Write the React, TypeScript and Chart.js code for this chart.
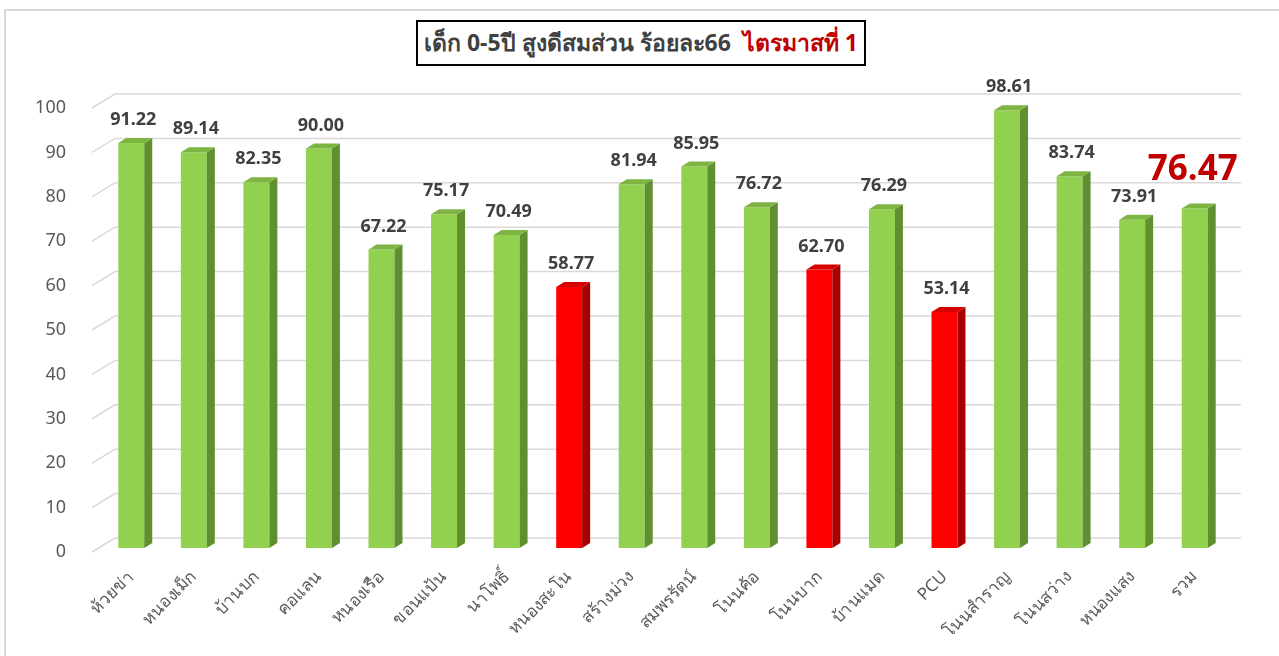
import React, { useEffect, useRef } from "react";
import { Chart, registerables } from "chart.js";

Chart.register(...registerables);

const categories: string[] = [
  "ห้วยข่า", "หนองเม็ก", "บ้านบก", "คอแลน", "หนองเรือ", "ขอนแป้น", "นาโพธิ์", "หนองสะโน",
  "สร้างม่วง", "สมพรรัตน์", "โนนค้อ", "โนนบาก", "บ้านแมด", "PCU", "โนนสำราญ", "โนนสว่าง",
  "หนองแสง", "รวม",
];
const values: number[] = [
  91.22, 89.14, 82.35, 90.0, 67.22, 75.17, 70.49, 58.77, 81.94, 85.95, 76.72, 62.7, 76.29,
  53.14, 98.61, 83.74, 73.91, 76.47,
];
const belowTarget: boolean[] = [
  false, false, false, false, false, false, false, true, false, false, false, true, false,
  true, false, false, false, false,
];
const yTicks: number[] = [0, 10, 20, 30, 40, 50, 60, 70, 80, 90, 100];

const FONT = "Tahoma, 'Noto Sans', 'DejaVu Sans', sans-serif";
const GREEN = { front: "#92d050", side: "#5f8f2e", top: "#7db442" };
const RED = { front: "#ff0000", side: "#a80000", top: "#d60000" };
const DX = 8;
const DY = 5;

const threeD = {
  id: "threeD",
  beforeDatasetsDraw(chart: any) {
    const ctx = chart.ctx;
    const y = chart.scales.y;
    const area = chart.chartArea;
    ctx.save();
    ctx.strokeStyle = "#d9d9d9";
    ctx.lineWidth = 1.5;
    yTicks.forEach((v) => {
      const yf = y.getPixelForValue(v);
      ctx.beginPath();
      ctx.moveTo(area.left - 8, yf + 4);
      ctx.lineTo(area.left + 15, yf - 10);
      ctx.lineTo(area.right + 15, yf - 10);
      ctx.stroke();
      ctx.fillStyle = "#595959";
      ctx.font = `18px ${FONT}`;
      ctx.textAlign = "right";
      ctx.textBaseline = "middle";
      ctx.fillText(String(v), 66, yf + 4);
    });
    ctx.restore();
  },
  afterDatasetsDraw(chart: any) {
    const ctx = chart.ctx;
    const meta = chart.getDatasetMeta(0);
    ctx.save();
    meta.data.forEach((bar: any, i: number) => {
      const c = belowTarget[i] ? RED : GREEN;
      const half = bar.width / 2;
      const l = bar.x - half;
      const r = bar.x + half;
      const t = bar.y;
      const b = bar.base;
      ctx.fillStyle = c.side;
      ctx.beginPath();
      ctx.moveTo(r, t);
      ctx.lineTo(r + DX, t - DY);
      ctx.lineTo(r + DX, b - DY);
      ctx.lineTo(r, b);
      ctx.closePath();
      ctx.fill();
      ctx.fillStyle = c.top;
      ctx.beginPath();
      ctx.moveTo(l, t);
      ctx.lineTo(l + DX, t - DY);
      ctx.lineTo(r + DX, t - DY);
      ctx.lineTo(r, t);
      ctx.closePath();
      ctx.fill();
      ctx.textAlign = "center";
      ctx.textBaseline = "middle";
      if (i === values.length - 1) {
        ctx.fillStyle = "#c00000";
        ctx.font = `bold 35px ${FONT}`;
        ctx.fillText(values[i].toFixed(2), bar.x - 2, t - 38);
      } else {
        ctx.fillStyle = "#404040";
        ctx.font = `bold 18px ${FONT}`;
        ctx.fillText(values[i].toFixed(2), bar.x + 2, t - 23);
      }
    });
    ctx.restore();
  },
};

export default function App() {
  const ref = useRef<HTMLCanvasElement>(null);
  useEffect(() => {
    if (!ref.current) return;
    const chart = new Chart(ref.current, {
      type: "bar",
      data: {
        labels: categories,
        datasets: [
          {
            data: values,
            backgroundColor: belowTarget.map((r) => (r ? RED.front : GREEN.front)),
            borderWidth: 0,
            barPercentage: 0.83,
            categoryPercentage: 0.5,
          },
        ],
      },
      options: {
        animation: false,
        responsive: false,
        maintainAspectRatio: false,
        layout: { padding: { left: 100, right: 53, top: 104, bottom: 0 } },
        plugins: { legend: { display: false }, tooltip: { enabled: false }, title: { display: false } },
        scales: {
          y: { display: false, min: 0, max: 100 },
          x: {
            grid: { display: false, drawTicks: false },
            border: { display: false },
            afterFit: (s: any) => {
              s.height = 108;
            },
            ticks: {
              color: "#595959",
              font: { size: 17, family: FONT },
              maxRotation: 45,
              minRotation: 45,
              padding: 19,
              autoSkip: false,
            },
          },
        },
      },
      plugins: [threeD],
    });
    return () => chart.destroy();
  }, []);

  return (
    <div style={{ position: "fixed", left: 0, top: 0, width: 1279, height: 656, background: "#fff", overflow: "hidden" }}>
      <div
        style={{
          position: "absolute",
          left: 4,
          top: 9,
          width: 1290,
          height: 660,
          borderTop: "2px solid #d9d9d9",
          borderLeft: "2px solid #d9d9d9",
        }}
      />
      <canvas ref={ref} width={1279} height={656} style={{ position: "absolute", left: 0, top: 0 }} />
      <div
        style={{
          position: "absolute",
          left: 416,
          top: 20,
          width: 446,
          height: 42,
          border: "2px solid #000",
          display: "flex",
          alignItems: "center",
          justifyContent: "center",
          fontFamily: FONT,
          fontSize: 23,
          fontWeight: "bold",
          color: "#404040",
          whiteSpace: "pre",
          background: "#fff",
        }}
      >
        <span>เด็ก 0-5ปี สูงดีสมส่วน ร้อยละ66  </span>
        <span style={{ color: "#c00000" }}>ไตรมาสที่ 1</span>
      </div>
    </div>
  );
}
